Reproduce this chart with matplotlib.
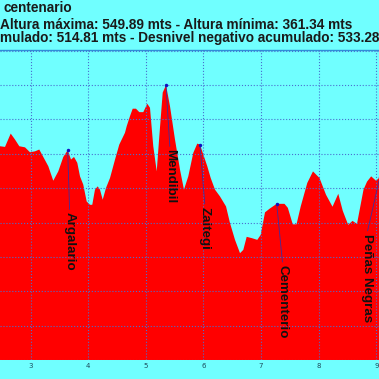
import matplotlib
matplotlib.use("Agg")
import matplotlib.pyplot as plt

# profile (km, metres)
dist_km = [2.467, 2.554, 2.653, 2.727, 2.802, 2.901, 2.988, 3.075, 3.149, 3.219,
           3.306, 3.392, 3.479, 3.566, 3.642, 3.700, 3.752, 3.809, 3.856, 3.913,
           3.972, 4.030, 4.069, 4.116, 4.163, 4.203, 4.250, 4.307, 4.377, 4.464,
           4.538, 4.637, 4.667, 4.724, 4.771, 4.828, 4.885, 4.955, 5.024, 5.071,
           5.128, 5.188, 5.233, 5.292, 5.349, 5.418, 5.505, 5.592, 5.661, 5.736,
           5.823, 5.892, 5.939, 5.997, 6.066, 6.125, 6.200, 6.286, 6.391, 6.460,
           6.547, 6.634, 6.691, 6.750, 6.842, 6.934, 6.993, 7.068, 7.146, 7.271,
           7.406, 7.464, 7.550, 7.615, 7.688, 7.802, 7.901, 8.014, 8.127, 8.240,
           8.340, 8.418, 8.512, 8.587, 8.665, 8.778, 8.839, 8.911, 8.995, 9.047,
           9.082]
elev_m = [505.5, 505.0, 514.7, 510.4, 505.5, 504.7, 501.1, 501.8, 503.1, 497.7,
          490.9, 480.4, 487.2, 497.7, 502.6, 495.8, 497.7, 493.4, 483.6, 477.5,
          465.3, 462.9, 462.9, 473.9, 476.3, 473.9, 466.6, 475.1, 482.4, 495.8,
          506.7, 515.3, 520.1, 527.4, 532.8, 532.8, 530.3, 530.3, 536.4, 533.5,
          505.5, 487.2, 512.8, 544.5, 549.9, 534.7, 510.4, 488.5, 473.9, 483.6,
          500.7, 507.4, 506.7, 499.4, 490.9, 482.4, 473.9, 469.0, 461.7, 449.6,
          437.4, 427.7, 430.1, 439.6, 438.6, 437.4, 441.0, 457.4, 460.0, 463.6,
          463.6, 460.7, 448.7, 448.7, 461.7, 478.8, 487.2, 482.4, 470.2, 461.5,
          470.9, 458.5, 448.3, 451.2, 449.0, 473.9, 479.7, 483.6, 480.4, 482.4,
          483.4]

# waypoints
wp_names = ["Argalario", "Mendibil", "Zaitegi", "Cementerio", "Peñas Negras"]
wp_km = [3.642, 5.349, 5.939, 7.271, 9.064]
wp_elev = [502.6, 549.9, 506.7, 463.6, 483.4]
wp_offsets = [(2, -62), (4, -64), (5, -62), (6, -61), (-13, -57)]  # pixels

x_ticks = [3, 4, 5, 6, 7, 8, 9]

title_lines = ["centenario",
               "Altura máxima: 549.89 mts - Altura mínima: 361.34 mts",
               "mulado: 514.81 mts - Desnivel negativo acumulado: 533.28"]

bg = "#70ffff"
fig = plt.figure(figsize=(3.79, 3.79), dpi=100, facecolor=bg)
ax = fig.add_axes([0, 19 / 379, 1, 310 / 379], facecolor=bg)

ax.fill_between(dist_km, elev_m, 350, color="#ff0000", lw=0, zorder=1)
ax.set_xlim(2.467, 9.047)
ax.set_ylim(350, 575.5)

ax.set_xticks(x_ticks)
ax.set_yticks(range(350, 576, 25))
ax.grid(True, color="#4a6fd0", linestyle=":", linewidth=0.8, zorder=2)
ax.set_axisbelow(False)
ax.tick_params(axis="x", length=0, pad=2, labelsize=5, labelcolor="#1d4b5c")
ax.tick_params(axis="y", length=0, labelleft=False)
for s in ["left", "right", "bottom"]:
    ax.spines[s].set_visible(False)
ax.spines["top"].set_color("#2f8fd8")
ax.spines["top"].set_linewidth(1.0)

for name, xk, ye, off in zip(wp_names, wp_km, wp_elev, wp_offsets):
    ax.annotate(name, xy=(xk, ye), xytext=off, textcoords="offset pixels",
                rotation=270, ha="center", va="top", fontsize=9.6,
                fontweight="bold", family="Liberation Sans", color="#111111",
                annotation_clip=False, zorder=5,
                arrowprops=dict(arrowstyle="-", color="#3a2fa0", lw=0.6,
                                shrinkA=0, shrinkB=0, relpos=(0.5, 1.0)))
    ax.plot([xk], [ye], "o", ms=2.5, color="#1010c0", mec="none", zorder=6,
            clip_on=False)

ys = [8.5, 25, 37.7]
xs = [3, 0, 0]
for t, yp, xp in zip(title_lines, ys, xs):
    fig.text(xp / 379, 1 - yp / 379, t, ha="left", va="center", fontsize=9.8,
             fontweight="bold", family="Liberation Sans", color="#1a1a1a")

fig.savefig("out.png", dpi=100, facecolor=bg)
